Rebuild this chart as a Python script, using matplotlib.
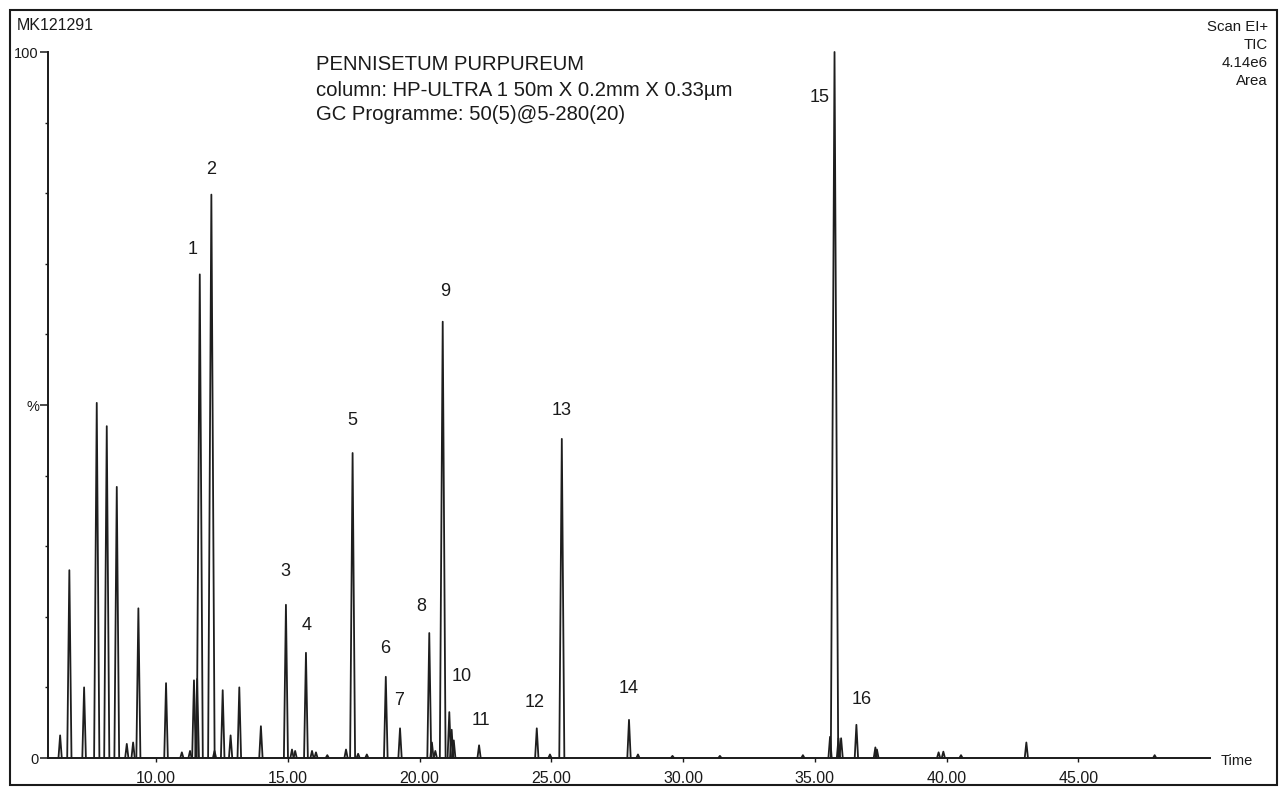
import matplotlib
matplotlib.use("Agg")
import matplotlib.pyplot as plt
from matplotlib.collections import LineCollection
from matplotlib.patches import Rectangle
from matplotlib.ticker import FixedLocator

plt.rcParams['font.family'] = ['Liberation Sans', 'DejaVu Sans']

# numbered peaks: retention time (min) and relative abundance (%)
peak_no = [1, 2, 3, 4, 5, 6, 7, 8, 9, 10, 11, 12, 13, 14, 15, 16]
peak_rt = [11.66, 12.10, 14.93, 15.69, 17.46, 18.72, 19.26, 20.37,
           20.88, 21.13, 22.26, 24.45, 25.40, 27.95, 35.75, 36.58]
peak_h = [68.5, 79.8, 21.7, 14.9, 43.2, 11.5, 4.2, 17.7,
          61.8, 6.5, 1.8, 4.2, 45.2, 5.4, 100.0, 4.7]

# the other (unnumbered) peaks of the TIC trace
other_rt = [6.36, 6.71, 7.27, 7.75, 8.13, 8.51, 8.89, 9.13, 9.33, 10.38,
            10.98, 11.29, 11.44, 11.56, 12.22, 12.53, 12.83, 13.16, 13.98,
            15.16, 15.28, 15.92, 16.07, 16.50, 17.21, 17.67, 18.00, 20.47,
            20.60, 21.22, 21.30, 24.95, 28.29, 29.60, 31.40, 34.55, 35.58,
            35.90, 36.00, 37.30, 37.36, 39.70, 39.88, 40.55, 43.03, 47.90]
other_h = [3.2, 26.6, 10.0, 50.3, 47.0, 38.4, 2.0, 2.2, 21.2, 10.6,
           0.8, 1.0, 11.0, 11.2, 1.0, 9.6, 3.2, 10.0, 4.5,
           1.2, 1.0, 1.0, 0.8, 0.4, 1.2, 0.6, 0.5, 2.2,
           1.0, 4.0, 2.5, 0.5, 0.5, 0.3, 0.3, 0.4, 3.0,
           2.8, 2.8, 1.5, 1.2, 0.8, 0.9, 0.4, 2.2, 0.4]

# where each number sits relative to its peak top (pixels)
label_off = [(-7, 25), (0, 25), (-1, 33), (1, 27), (0, 33), (-1, 28), (-1, 28), (-8, 27),
             (2, 30), (12, 36), (2, 25), (-2, 26), (0, 28), (0, 31), (-15, -46), (5, 25)]

xticks = [10, 15, 20, 25, 30, 35, 40, 45]

W, H = 1285, 788
fig = plt.figure(figsize=(W / 100, H / 100), dpi=100)
fig.patch.set_facecolor('white')

def fx(px):
    return px / W

def fy(py):
    return 1 - py / H

ax = fig.add_axes([fx(48), fy(758), fx(1210) - fx(48), fy(52) - fy(758)])
ax.set_xlim(5.90, 50.0)
ax.set_ylim(0, 100)

# each peak drawn as a narrow spike
segs = []
for t, h in zip(peak_rt + other_rt, peak_h + other_h):
    w = 0.06 + 0.0008 * h
    segs.append([(t - w, 0), (t, h), (t + w, 0)])
lc = LineCollection(segs, colors='#1e1e1e', linewidths=1.3, clip_on=False)
ax.add_collection(lc)

for n, t, h, (dx, dy) in zip(peak_no, peak_rt, peak_h, label_off):
    ax.annotate(str(n), (t, h), xytext=(dx, dy), textcoords='offset pixels',
                ha='center', va='center', fontsize=13, color='#1a1a1a')

for s in ['top', 'right']:
    ax.spines[s].set_visible(False)
for s in ['left', 'bottom']:
    ax.spines[s].set_linewidth(1.4)
    ax.spines[s].set_color('#1a1a1a')

ax.set_xticks(xticks)
ax.set_xticklabels(['%.2f' % x for x in xticks])
ax.tick_params(axis='x', direction='out', length=3, width=1, pad=6.5,
               labelsize=11.5, colors='#1a1a1a')
ax.set_yticks([0, 50, 100])
ax.set_yticklabels(['0', '%', '100'])
ax.yaxis.set_minor_locator(FixedLocator([10, 20, 30, 40, 60, 70, 80, 90]))
ax.tick_params(axis='y', which='major', direction='out', length=5.5, width=1.1,
               pad=1, labelsize=10.5, colors='#1a1a1a')
ax.tick_params(axis='y', which='minor', direction='out', length=2.5, width=1,
               colors='#1a1a1a')
ax.patch.set_alpha(0)

# outer frame of the printout
fig.patches.append(Rectangle((fx(10), fy(785)), fx(1277) - fx(10), fy(10) - fy(785),
                             transform=fig.transFigure, fill=False,
                             edgecolor='#1a1a1a', linewidth=1.5))

fig.text(fx(17), fy(26), 'MK121291', fontsize=11.5, va='center', ha='left', color='#1a1a1a')

title_lines = ['PENNISETUM PURPUREUM',
               'column: HP-ULTRA 1 50m X 0.2mm X 0.33µm',
               'GC Programme: 50(5)@5-280(20)']
for i, line in enumerate(title_lines):
    fig.text(fx(316), fy(65 + 25 * i), line, fontsize=14.6, va='center', ha='left',
             color='#1a1a1a')

info_lines = ['Scan EI+', 'TIC', '4.14e6', 'Area']
for i, line in enumerate(info_lines):
    fig.text(fx(1268), fy(27 + 18 * i), line, fontsize=10.8, va='center', ha='right',
             color='#1a1a1a')

fig.text(fx(1221), fy(761), 'Time', fontsize=10.5, va='center', ha='left', color='#1a1a1a')

fig.savefig('out.png', dpi=100, facecolor='white')
